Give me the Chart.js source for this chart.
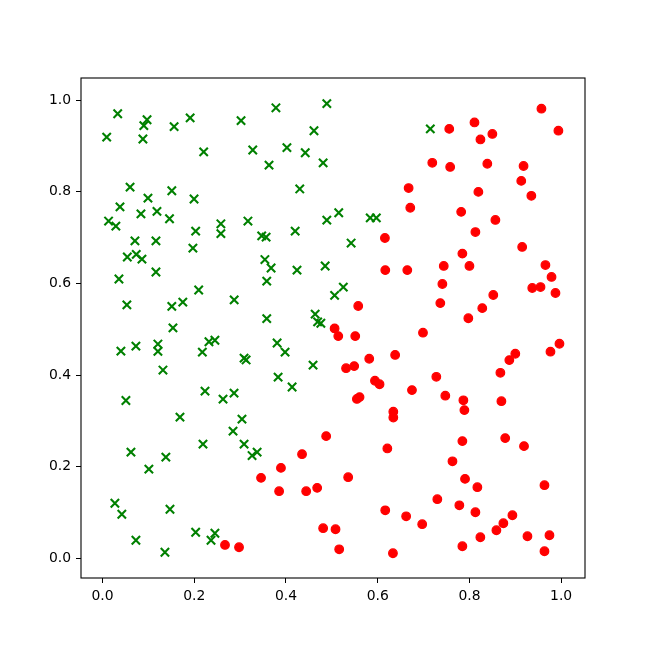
<!DOCTYPE html>
<html>
<head>
<meta charset="utf-8">
<script src="https://cdn.jsdelivr.net/npm/chart.js@4/dist/chart.umd.min.js"></script>
<style>
html,body{margin:0;padding:0;background:#fff;}
canvas{display:block;}
</style>
</head>
<body>
<canvas id="c" width="650" height="650"></canvas>
<script>
const tickValues = [0.0, 0.2, 0.4, 0.6, 0.8, 1.0];

const greenX = [0.033,0.097,0.090,0.009,0.088,0.156,0.191,0.2205,0.302,0.378,0.489,0.461,0.3275,0.402,0.442,0.363,0.481,0.060,0.099,0.151,0.1995,0.430,0.038,0.1186,0.0837,0.0131,0.029,0.146,0.258,0.258,0.317,0.203,0.347,0.3566,0.420,0.489,0.0706,0.1164,0.197,0.054,0.0735,0.0859,0.354,0.3675,0.424,0.4854,0.0357,0.1164,0.358,0.2096,0.053,0.151,0.175,0.287,0.506,0.525,0.358,0.4636,0.469,0.476,0.1535,0.040,0.0727,0.1207,0.1207,0.2176,0.232,0.245,0.3806,0.398,0.3086,0.313,0.459,0.1317,0.3828,0.4133,0.2234,0.2627,0.2867,0.0509,0.1688,0.304,0.2845,0.219,0.3086,0.0619,0.337,0.326,0.138,0.101,0.0269,0.042,0.147,0.0727,0.136,0.203,0.245,0.2365,0.515,0.5837,0.597,0.542,0.7147];
const greenY = [0.970,0.957,0.944,0.919,0.915,0.942,0.961,0.887,0.955,0.983,0.992,0.933,0.891,0.896,0.885,0.858,0.863,0.810,0.786,0.802,0.784,0.806,0.767,0.757,0.7515,0.736,0.725,0.741,0.730,0.7085,0.736,0.714,0.7035,0.701,0.714,0.738,0.6926,0.6926,0.677,0.6576,0.6633,0.653,0.652,0.6336,0.629,0.638,0.6096,0.6249,0.605,0.5856,0.553,0.550,0.559,0.564,0.574,0.592,0.523,0.533,0.516,0.513,0.503,0.4524,0.4633,0.4677,0.4516,0.450,0.4727,0.476,0.470,0.450,0.437,0.433,0.4218,0.411,0.3956,0.374,0.365,0.3476,0.3607,0.3445,0.3083,0.304,0.2777,0.2493,0.2493,0.232,0.232,0.2245,0.221,0.1948,0.1205,0.0965,0.1074,0.0397,0.0135,0.0572,0.055,0.0397,0.754,0.743,0.743,0.688,0.937];

const redX = [0.756,0.811,0.957,0.994,0.850,0.824,0.719,0.758,0.839,0.918,0.913,0.6674,0.8195,0.935,0.671,0.782,0.8566,0.813,0.6157,0.915,0.7846,0.9657,0.6165,0.6645,0.744,0.800,0.979,0.741,0.937,0.955,0.9876,0.852,0.7365,0.828,0.7976,0.5575,0.506,0.514,0.551,0.6987,0.9963,0.9767,0.900,0.887,0.8675,0.638,0.5815,0.531,0.5487,0.7278,0.594,0.604,0.6747,0.7474,0.7868,0.8697,0.5546,0.5604,0.789,0.634,0.634,0.7846,0.878,0.919,0.621,0.4876,0.435,0.389,0.3456,0.385,0.444,0.468,0.481,0.508,0.267,0.2976,0.763,0.5356,0.7904,0.8173,0.9636,0.730,0.6164,0.662,0.697,0.778,0.813,0.8937,0.874,0.8588,0.9265,0.9745,0.8238,0.7846,0.9636,0.6332,0.516];
const redY = [0.937,0.951,0.981,0.933,0.926,0.914,0.863,0.854,0.861,0.856,0.8236,0.808,0.7996,0.791,0.765,0.756,0.7384,0.712,0.699,0.6795,0.665,0.640,0.629,0.629,0.638,0.638,0.614,0.5987,0.590,0.592,0.579,0.5747,0.557,0.546,0.524,0.5507,0.5018,0.485,0.485,0.4924,0.4683,0.451,0.4465,0.4327,0.405,0.444,0.4356,0.415,0.4196,0.3963,0.3876,0.380,0.3672,0.355,0.345,0.343,0.348,0.352,0.3236,0.320,0.3075,0.256,0.2625,0.245,0.240,0.2668,0.2275,0.1976,0.1758,0.1467,0.1467,0.154,0.066,0.0637,0.0295,0.0245,0.212,0.1773,0.1736,0.1555,0.1598,0.1293,0.105,0.092,0.0747,0.116,0.1008,0.0943,0.0768,0.0616,0.0485,0.0507,0.0463,0.0266,0.0157,0.0114,0.020];

const toPts = (xs, ys) => xs.map((x, i) => ({x: x, y: ys[i]}));

const bgPlugin = {
  id: 'bg',
  beforeDraw(chart) {
    const ctx = chart.ctx;
    ctx.save();
    ctx.fillStyle = '#ffffff';
    ctx.fillRect(0, 0, chart.width, chart.height);
    ctx.restore();
  }
};
const framePlugin = {
  id: 'frame',
  afterDatasetsDraw(chart) {
    const a = chart.chartArea, ctx = chart.ctx;
    ctx.save();
    ctx.strokeStyle = '#000';
    ctx.lineWidth = 1.1;
    ctx.strokeRect(a.left, a.top, a.right - a.left, a.bottom - a.top);
    ctx.restore();
  }
};

const font = {family: 'DejaVu Sans', size: 13.9};
const setTicks = (scale) => { scale.ticks = tickValues.map(v => ({value: v})); };

new Chart(document.getElementById('c'), {
  type: 'scatter',
  data: {
    datasets: [
      {
        data: toPts(greenX, greenY),
        pointStyle: 'crossRot',
        pointRadius: 5.9,
        pointHoverRadius: 5.9,
        borderColor: '#008000',
        backgroundColor: '#008000',
        borderWidth: 2.1
      },
      {
        data: toPts(redX, redY),
        pointStyle: 'circle',
        pointRadius: 4.3,
        pointHoverRadius: 4.3,
        borderColor: '#ff0000',
        backgroundColor: '#ff0000',
        borderWidth: 1.2
      }
    ]
  },
  options: {
    responsive: false,
    animation: false,
    events: [],
    layout: {padding: {left: 0, top: 78, right: 65, bottom: 0}},
    plugins: {legend: {display: false}, tooltip: {enabled: false}},
    scales: {
      x: {
        type: 'linear',
        min: -0.047,
        max: 1.052,
        afterBuildTicks: setTicks,
        afterFit(scale) { scale.height = 72; },
        border: {display: false},
        grid: {display: true, drawOnChartArea: false, drawTicks: true, tickLength: 5, color: '#000', lineWidth: 1},
        ticks: {color: '#000', font: font, padding: 5, autoSkip: false, maxRotation: 0,
          callback: (v) => Number(v).toFixed(1)}
      },
      y: {
        type: 'linear',
        min: -0.0426,
        max: 1.048,
        afterBuildTicks: setTicks,
        afterFit(scale) { scale.width = 81; },
        border: {display: false},
        grid: {display: true, drawOnChartArea: false, drawTicks: true, tickLength: 5, color: '#000', lineWidth: 1},
        ticks: {color: '#000', font: font, padding: 5, autoSkip: false,
          callback: (v) => Number(v).toFixed(1)}
      }
    }
  },
  plugins: [bgPlugin, framePlugin]
});
</script>
</body>
</html>
